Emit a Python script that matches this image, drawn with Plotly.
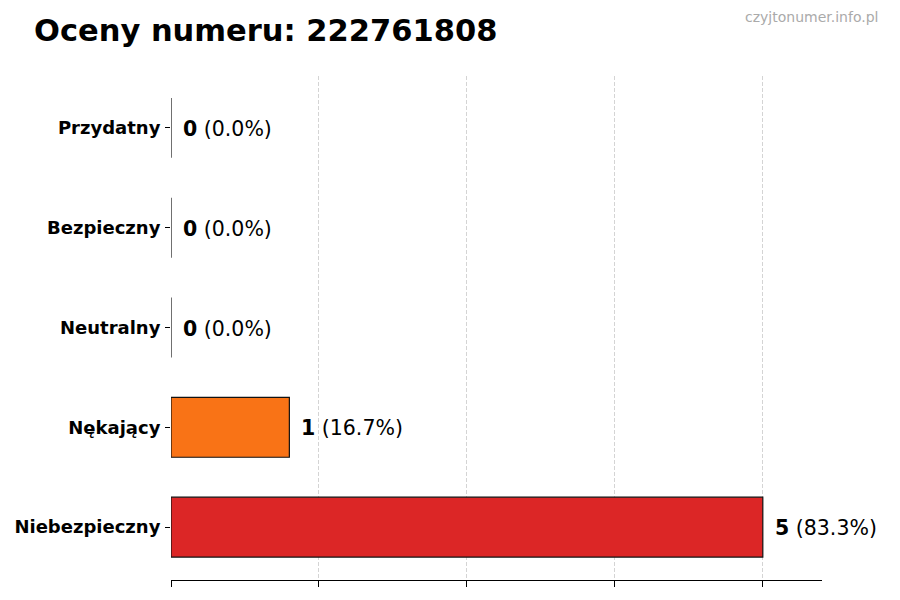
import plotly.graph_objects as go

# --- DATA ---
categories = ["Niebezpieczny", "Nękający", "Neutralny", "Bezpieczny", "Przydatny"]
counts = [5, 1, 0, 0, 0]
colors = ["#dc2626", "#f97316", "#9ca3af", "#22c55e", "#3b82f6"]
total = sum(counts)
labels = [f"<b>{c}</b> ({c / total * 100:.1f}%)" for c in counts]

fig = go.Figure()
fig.add_trace(go.Bar(
    x=counts, y=categories, orientation="h", width=0.6,
    marker=dict(color=colors, line=dict(color="#111111", width=1.2)),
    hoverinfo="skip",
))

# value labels right of each bar
for cat, c, lab in zip(categories, counts, labels):
    fig.add_annotation(x=c, y=cat, text=lab, showarrow=False, xanchor="left",
                       xshift=10, yshift=-1, font=dict(size=20.5, color="black"))

fig.add_annotation(text="czyjtonumer.info.pl", xref="paper", yref="paper",
                   x=1.089, y=1.117, xanchor="right", yanchor="middle", showarrow=False,
                   font=dict(size=14, color="#aaaaaa"))

# page body adds an 8px offset, so the figure is 892x592
fig.update_layout(
    title=dict(text="<b>Oceny numeru: 222761808</b>", x=26 / 892, xanchor="left",
               y=0.963, yanchor="middle", font=dict(size=30.5, color="black")),
    width=892, height=592,
    margin=dict(l=163, r=78, t=68, b=20),
    paper_bgcolor="white", plot_bgcolor="white",
    font=dict(family="DejaVu Sans", color="black"),
    showlegend=False,
)
fig.update_xaxes(range=[0, 5.5], tickvals=[0, 1.25, 2.5, 3.75, 5], showticklabels=False,
                 ticks="outside", ticklen=6, tickcolor="black", showline=True,
                 linecolor="black", linewidth=1, showgrid=True, gridcolor="#d4d4d4",
                 griddash="4px,2px", gridwidth=1, zeroline=False, automargin=False)
fig.update_yaxes(range=[-0.53, 4.52], ticks="outside", ticklen=5, tickcolor="black",
                 showline=False, showgrid=False, zeroline=False, automargin=False,
                 tickfont=dict(size=18, color="black", family="DejaVu Sans"),
                 ticklabelstandoff=1,
                 tickvals=categories, ticktext=[f"<b>{c}</b>" for c in categories])

fig.write_html("out.html")
